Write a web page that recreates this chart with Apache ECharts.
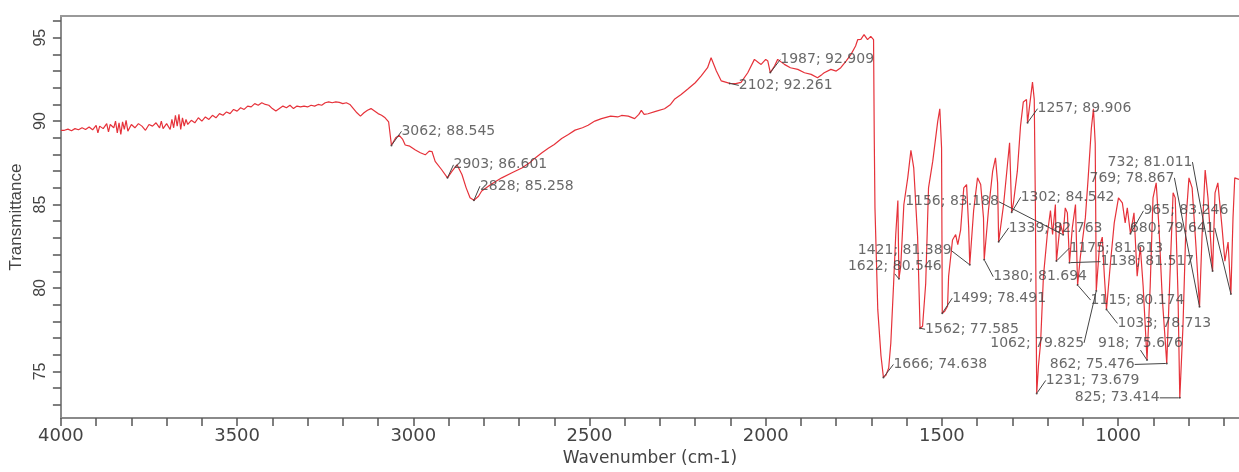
<!DOCTYPE html>
<html><head><meta charset="utf-8">
<script src="https://cdn.jsdelivr.net/npm/echarts@6/dist/echarts.min.js"></script>
<style>html,body{margin:0;padding:0;background:#fff}#c{width:1239px;height:472px}</style>
</head><body><div id="c"></div>
<script>
// ---- spectrum data (wavenumber, cm-1 / transmittance) ----
const wavenumber = [
4000,3990,3980,3970,3960,3950,3940,3930,3920,3910,3900,3895,3890,3880,3870,3865,3860,3850,3845,3840,
3835,3830,3825,3820,3815,3810,3800,3790,3780,3770,3760,3750,3740,3730,3720,3715,3710,3700,3690,3685,
3680,3675,3670,3665,3660,3655,3650,3645,3640,3630,3620,3610,3600,3590,3580,3570,3560,3550,3540,3530,
3520,3510,3500,3490,3480,3470,3460,3450,3440,3430,3420,3410,3400,3390,3380,3370,3360,3350,3340,3330,
3320,3310,3300,3290,3280,3270,3260,3250,3240,3230,3220,3210,3200,3190,3180,3170,3160,3150,3140,3130,
3120,3110,3100,3090,3080,3070,3062,3050,3040,3030,3023,3010,2994,2980,2966,2955,2947,2938,2920,2903,
2890,2876,2862,2850,2839,2828,2815,2806,2780,2749,2720,2692,2670,2655,2635,2617,2600,2579,2560,2541,
2520,2504,2485,2466,2440,2420,2409,2390,2372,2360,2353,2345,2334,2310,2287,2270,2258,2240,2221,2200,
2183,2165,2155,2140,2126,2102,2085,2070,2051,2032,2020,2013,2000,1994,1987,1975,1966,1947,1930,1909,
1890,1871,1853,1840,1834,1815,1800,1787,1772,1758,1745,1739,1730,1721,1711,1702,1694,1692,1690,1682,
1673,1666,1659,1651,1645,1637,1631,1625,1622,1617,1608,1597,1588,1583,1580,1569,1562,1555,1546,1538,
1526,1512,1506,1501,1499,1492,1484,1481,1470,1461,1455,1447,1438,1430,1424,1421,1410,1399,1390,1382,
1380,1368,1356,1348,1342,1339,1325,1314,1308,1302,1297,1286,1277,1269,1260,1257,1249,1243,1238,1235,
1231,1226,1220,1212,1201,1192,1186,1178,1175,1164,1156,1150,1144,1138,1130,1121,1115,1107,1093,1085,
1076,1070,1065,1062,1053,1045,1039,1033,1022,1011,999,988,980,974,965,955,946,937,929,918,
909,901,892,884,875,862,853,844,838,830,825,816,807,799,790,779,769,762,753,745,
732,725,717,705,697,688,680,674,669,657];
const transmittance = [
89.45,89.45,89.52,89.42,89.55,89.48,89.6,89.5,89.65,89.48,89.75,89.3,89.7,89.55,89.85,89.35,89.8,89.6,90.0,89.3,
89.9,89.2,89.95,89.5,90.05,89.4,89.8,89.6,89.85,89.7,89.45,89.8,89.7,89.9,89.6,90.0,89.55,89.85,89.5,90.1,
89.6,90.35,89.7,90.4,89.5,90.2,89.7,90.1,89.8,90.05,89.9,90.2,90.0,90.25,90.1,90.35,90.2,90.45,90.35,90.55,
90.45,90.7,90.6,90.8,90.7,90.9,90.85,91.05,90.95,91.1,91.0,90.95,90.75,90.6,90.75,90.9,90.8,90.95,90.75,90.9,
90.85,90.9,90.85,90.95,90.9,91.0,90.95,91.1,91.15,91.1,91.15,91.12,91.05,91.1,91.0,90.75,90.5,90.3,90.5,90.65,
90.75,90.6,90.45,90.35,90.2,89.95,88.55,89.0,89.15,88.9,88.57,88.5,88.27,88.1,87.98,88.2,88.18,87.59,87.1,86.6,
87.0,87.38,86.8,86.0,85.41,85.26,85.5,85.81,86.2,86.6,86.9,87.19,87.5,87.78,88.1,88.37,88.6,88.96,89.2,89.46,
89.6,89.75,90.0,90.15,90.3,90.25,90.34,90.3,90.15,90.4,90.64,90.4,90.44,90.6,90.74,91.0,91.33,91.6,91.92,92.3,
92.71,93.2,93.8,93.0,92.41,92.26,92.25,92.32,92.9,93.7,93.5,93.4,93.7,93.6,92.91,93.3,93.7,93.4,93.2,93.1,
92.9,92.8,92.6,92.8,92.9,93.1,93.0,93.2,93.6,94.0,94.5,94.88,94.9,95.18,94.88,95.08,94.88,89.0,84.8,78.7,
75.95,74.64,74.76,75.2,76.7,80.3,83.2,85.24,80.55,81.27,85.0,86.6,88.25,87.6,87.2,83.05,77.59,77.7,80.27,86.0,
87.6,89.97,90.74,88.4,78.49,78.6,78.9,80.7,82.87,83.2,82.6,83.46,86.0,86.2,83.6,81.39,84.64,86.6,86.2,84.2,
81.69,84.64,87.0,87.8,86.3,82.76,85.0,87.4,88.7,84.54,85.1,87.0,89.7,91.15,91.3,89.91,91.3,92.34,91.3,85.4,
73.68,75.35,76.7,80.68,83.2,84.64,83.2,85.0,81.61,83.9,83.19,84.8,84.5,81.52,83.6,85.0,80.17,81.9,84.2,86.6,
89.56,90.74,88.67,79.83,82.46,83.05,80.7,78.71,81.45,83.9,85.4,85.1,83.9,84.8,83.25,84.5,80.7,82.46,80.1,75.68,
80.1,85.4,86.3,83.6,79.5,75.48,80.7,85.7,85.4,79.5,73.41,77.7,84.2,86.6,86.0,82.46,78.87,83.05,87.07,85.4,
81.01,85.7,86.3,83.6,81.6,82.75,79.64,84.2,86.6,86.5];

// ---- peak annotations ----
const peakWavenumber = [3062,2903,2828,1987,2102,1257,1156,1302,1339,1175,1421,1622,1380,1499,1562,1666,1115,1033,1062,918,862,1231,825,732,769,965,680,1138];
const peakTransmittance = [88.545,86.601,85.258,92.909,92.261,89.906,83.188,84.542,82.763,81.613,81.389,80.546,81.694,78.491,77.585,74.638,80.174,78.713,79.825,75.676,75.476,73.679,73.414,81.011,78.867,83.246,79.641,81.517];

// ---- tick labels ----
const xTickLabels = [4000,3500,3000,2500,2000,1500,1000];
const yTickLabels = [75,80,85,90,95];

// ---- layout only: label offsets (px) from each annotated point ----
const labelOffsets = [[10,-14],[6,-13],[6,-14],[10,-13],[9,2],[10,-14],[-158,-33],[9,-15],[10,-14],[13,-13],
[-112,-14],[-51,-12],[9,17],[10,-15],[5,1],[10,-13],[13,15],[11,14],[-106,52],[-49,-17],[-117,1],[9,-13],
[-105,0],[-105,-109],[-110,-129],[13,-23],[-101,-66],[31,-1]];

const xMinor = []; for (let v = 700; v <= 4000; v += 100) xMinor.push(v);
const yMinor = []; for (let v = 73; v <= 96; v += 1) yMinor.push(v);

const chart = echarts.init(document.getElementById('c'), null, {renderer:'canvas'});
chart.setOption({
  animation:false,
  backgroundColor:'#fff',
  grid:{left:58, top:16, right:0, bottom:49},
  xAxis:[{
    type:'value', inverse:true, min:657, max:4000, position:'bottom',
    axisLine:{show:true, onZero:false, lineStyle:{color:'#8a8a8a', width:2}},
    axisTick:{show:true, customValues:xMinor, length:8, lineStyle:{color:'#555', width:1.5}},
    axisLabel:{customValues:xTickLabels, formatter:v=>String(Math.round(v)), fontFamily:'DejaVu Sans', fontSize:18, color:'#444', margin:9},
    splitLine:{show:false},
    name:'Wavenumber (cm-1)', nameLocation:'middle', nameGap:30,
    nameTextStyle:{fontFamily:'DejaVu Sans', fontSize:17, color:'#444'}
  },{
    type:'value', inverse:true, min:657, max:4000, position:'top',
    axisLine:{show:true, onZero:false, lineStyle:{color:'#999', width:2}},
    axisTick:{show:false}, axisLabel:{show:false}, splitLine:{show:false}
  }],
  yAxis:{
    type:'value', min:72.2, max:96.3,
    axisLine:{show:true, lineStyle:{color:'#8a8a8a', width:2}},
    axisTick:{show:true, customValues:yMinor, length:8, lineStyle:{color:'#555', width:1.5}},
    axisLabel:{customValues:yTickLabels, formatter:v=>String(Math.round(v)), rotate:90, fontFamily:'Liberation Sans', fontSize:16, color:'#444', margin:12},
    splitLine:{show:false},
    name:'Transmittance', nameLocation:'middle', nameGap:28,
    nameTextStyle:{fontFamily:'Liberation Sans', fontSize:17, color:'#444'}
  },
  series:[{
    type:'line', xAxisIndex:0,
    data: wavenumber.map((w,i)=>[w, transmittance[i]]),
    showSymbol:false, lineStyle:{color:'#e6323a', width:1.2}, z:2
  },{
    type:'scatter', xAxisIndex:0,
    data: peakWavenumber.map((w,i)=>[w, peakTransmittance[i]]),
    symbolSize:2, itemStyle:{color:'#333'}, z:3,
    label:{show:true, formatter:p=>p.value[0]+'; '+p.value[1].toFixed(3),
      fontFamily:'DejaVu Sans', fontSize:14, color:'#444'},
    labelLine:{show:true, lineStyle:{color:'#444', width:1}},
    labelLayout:function(params){
      const o = labelOffsets[params.dataIndex];
      const cx = params.rect.x + params.rect.width/2;
      const cy = params.rect.y + params.rect.height/2;
      return {x: cx + o[0], y: cy + o[1], align:'left', verticalAlign:'middle'};
    }
  }]
});
</script></body></html>
